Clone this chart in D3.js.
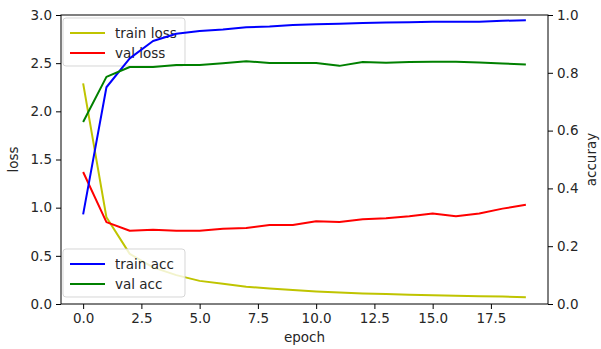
<!DOCTYPE html>
<html>
<head>
<meta charset="utf-8">
<script src="https://cdn.jsdelivr.net/npm/d3@7"></script>
<style>
  body { margin: 0; background: #fff; }
  text { font-family: "DejaVu Sans", sans-serif; fill: #262626; }
</style>
</head>
<body>
<div class="chart"></div>
<script>
var epochs = d3.range(0, 20);
var trainLoss = [2.29, 0.90, 0.52, 0.38, 0.30, 0.24, 0.21, 0.18, 0.16, 0.145, 0.13, 0.12, 0.11, 0.105, 0.095, 0.09, 0.085, 0.08, 0.078, 0.07];
var valLoss = [1.37, 0.85, 0.76, 0.77, 0.76, 0.76, 0.78, 0.79, 0.82, 0.82, 0.86, 0.85, 0.88, 0.89, 0.91, 0.94, 0.91, 0.94, 0.99, 1.03];
var trainAcc = [0.31, 0.75, 0.85, 0.91, 0.935, 0.945, 0.95, 0.958, 0.96, 0.965, 0.968, 0.97, 0.972, 0.974, 0.975, 0.977, 0.977, 0.977, 0.98, 0.982];
var valAcc = [0.63, 0.786, 0.82, 0.82, 0.827, 0.827, 0.833, 0.84, 0.834, 0.834, 0.834, 0.824, 0.837, 0.835, 0.837, 0.838, 0.838, 0.836, 0.832, 0.829];

var xTicks = [0, 2.5, 5, 7.5, 10, 12.5, 15, 17.5];
var lossTicks = [0, 0.5, 1, 1.5, 2, 2.5, 3];
var accTicks = [0, 0.2, 0.4, 0.6, 0.8, 1];

var svgWidth = 601;
var svgHeight = 349;
var margin = { top: 15, right: 53, bottom: 45, left: 61 };
var width = svgWidth - margin.left - margin.right;
var height = svgHeight - margin.top - margin.bottom;

var svg = d3.select(".chart")
  .append("svg")
  .attr("width", svgWidth)
  .attr("height", svgHeight);

var chartGroup = svg.append("g")
  .attr("transform", `translate(${margin.left}, ${margin.top})`);

var xScale = d3.scaleLinear().domain([-0.95, 19.95]).range([0, width]);
var yLoss = d3.scaleLinear().domain([0, 3]).range([height, 0]);
var yAcc = d3.scaleLinear().domain([0, 1]).range([height, 0]);

function drawLine(values, yScale, color) {
  var line = d3.line()
    .x((d, i) => xScale(epochs[i]))
    .y(d => yScale(d));
  chartGroup.append("path")
    .datum(values)
    .attr("fill", "none")
    .attr("stroke", color)
    .attr("stroke-width", 2)
    .attr("stroke-linejoin", "round")
    .attr("d", line);
}

function drawLegend(items, x, y) {
  var g = chartGroup.append("g").attr("transform", `translate(${x}, ${y})`);
  g.append("rect")
    .attr("width", 122)
    .attr("height", 48)
    .attr("rx", 3)
    .attr("fill", "#fff")
    .attr("fill-opacity", 0.8)
    .attr("stroke", "#cccccc")
    .attr("stroke-opacity", 0.8);
  items.forEach(function(item, i) {
    var cy = 15 + i * 20;
    g.append("line")
      .attr("x1", 7).attr("x2", 42)
      .attr("y1", cy).attr("y2", cy)
      .attr("stroke", item.color)
      .attr("stroke-width", 2);
    g.append("text")
      .attr("x", 52)
      .attr("y", cy)
      .attr("dy", "0.36em")
      .style("font-size", "13.5px")
      .text(item.label);
  });
}

// loss axis lines + legend
drawLine(trainLoss, yLoss, "#bfc400");
drawLine(valLoss, yLoss, "#ff0000");
drawLegend([
  { label: "train loss", color: "#bfc400" },
  { label: "val loss", color: "#ff0000" }
], 2, 3);

// accuracy (twin axis) lines + legend
drawLine(trainAcc, yAcc, "#0000ff");
drawLine(valAcc, yAcc, "#008000");
drawLegend([
  { label: "train acc", color: "#0000ff" },
  { label: "val acc", color: "#008000" }
], 2, 234);

// frame
chartGroup.append("rect")
  .attr("width", width)
  .attr("height", height)
  .attr("fill", "none")
  .attr("stroke", "#000")
  .attr("stroke-width", 1);

var bottomAxis = d3.axisBottom(xScale).tickValues(xTicks).tickFormat(d3.format(".1f")).tickSizeOuter(0).tickSize(5).tickPadding(4);
var leftAxis = d3.axisLeft(yLoss).tickValues(lossTicks).tickFormat(d3.format(".1f")).tickSizeOuter(0).tickSize(5).tickPadding(4);
var rightAxis = d3.axisRight(yAcc).tickValues(accTicks).tickFormat(d3.format(".1f")).tickSizeOuter(0).tickSize(5).tickPadding(4);

function styleAxis(g) {
  g.select(".domain").remove();
  g.selectAll("text").style("font-size", "13.5px").style("font-family", "DejaVu Sans").attr("fill", "#262626");
  g.selectAll("line").attr("stroke", "#000");
}

chartGroup.append("g")
  .attr("transform", `translate(0, ${height})`)
  .call(bottomAxis)
  .call(styleAxis);

chartGroup.append("g")
  .call(leftAxis)
  .call(styleAxis);

chartGroup.append("g")
  .attr("transform", `translate(${width}, 0)`)
  .call(rightAxis)
  .call(styleAxis);

chartGroup.append("text")
  .attr("transform", `translate(${width / 2}, ${height + 38})`)
  .attr("text-anchor", "middle")
  .style("font-size", "13.5px")
  .text("epoch");

chartGroup.append("text")
  .attr("transform", `translate(${13 - margin.left}, ${height / 2}) rotate(-90)`)
  .attr("text-anchor", "middle")
  .attr("dy", "0.36em")
  .style("font-size", "13.5px")
  .text("loss");

chartGroup.append("text")
  .attr("transform", `translate(${width + 43}, ${height / 2}) rotate(-90)`)
  .attr("text-anchor", "middle")
  .attr("dy", "0.36em")
  .style("font-size", "13.5px")
  .text("accuray");
</script>
</body>
</html>
